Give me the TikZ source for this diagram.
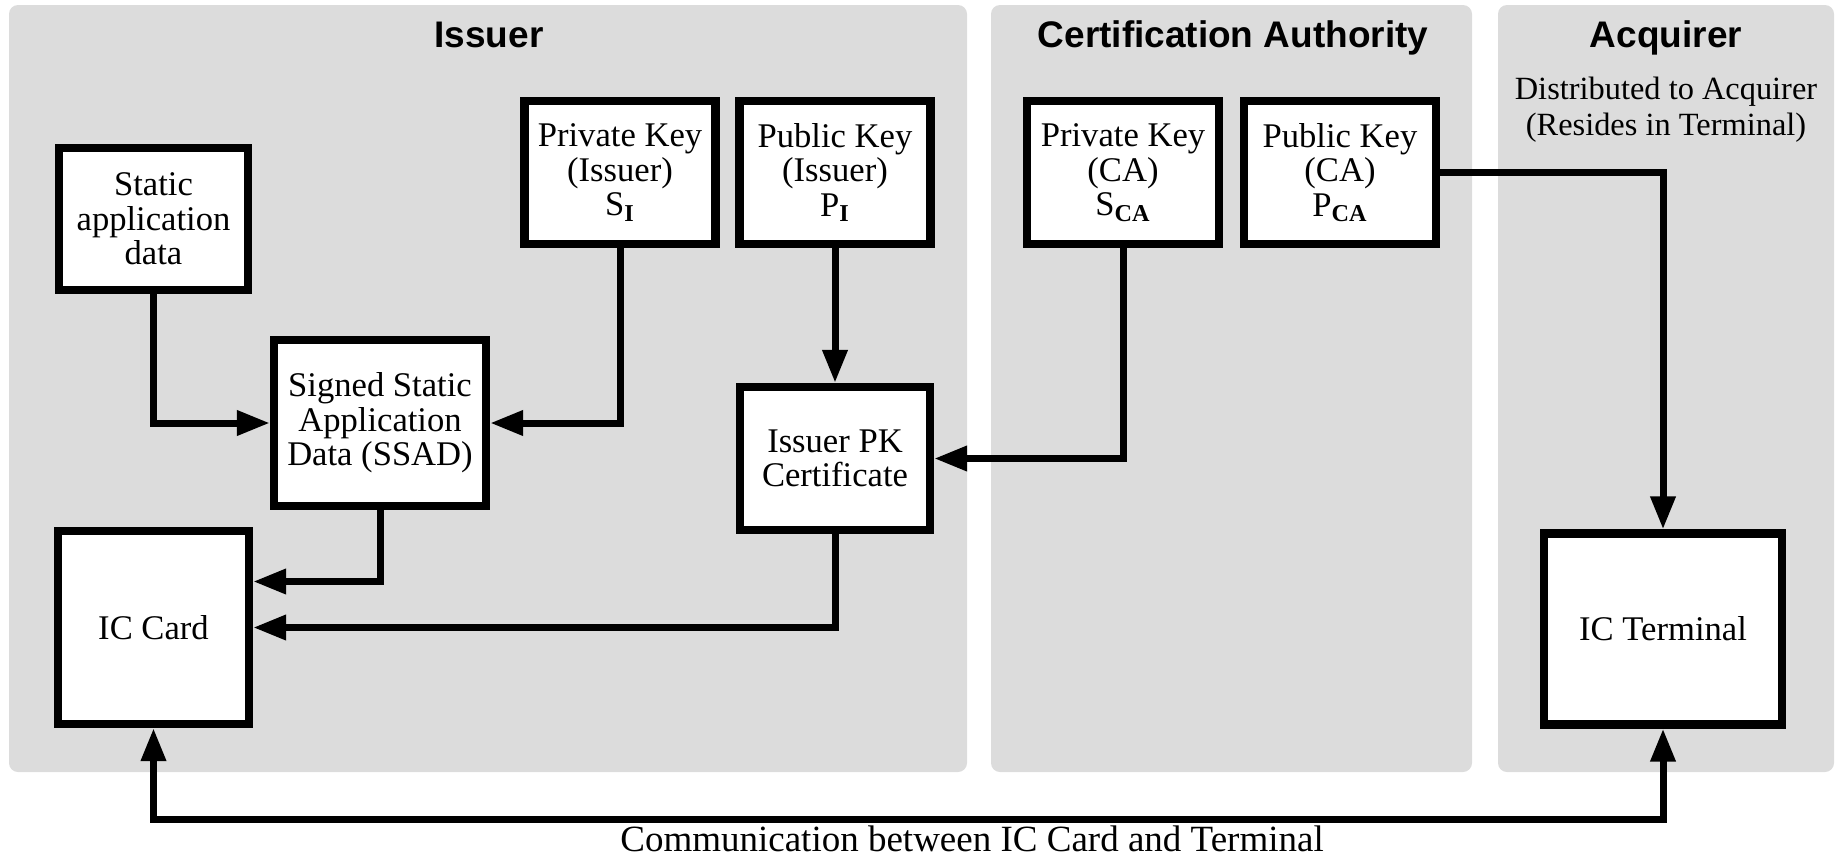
\documentclass[tikz,border=0pt]{standalone}
\usepackage{fontspec}
\setmainfont{Liberation Serif}
\newfontfamily\headfont{Liberation Sans}
\usepackage{tikz}
\usetikzlibrary{arrows.meta}
\definecolor{panelgray}{RGB}{220,220,220}
\tikzset{>={Triangle[length=16.5pt,width=12pt]},
  panel/.style={fill=panelgray, rounded corners=4.5pt},
  head/.style={font=\headfont\bfseries\fontsize{18.5}{20}\selectfont, anchor=base},
  note/.style={align=center, font=\fontsize{16.2}{18}\selectfont},
  blk/.style={draw, fill=white, line width=4.2pt, inner sep=0pt, align=center,
    font=\fontsize{17.3}{17.3}\selectfont},
  dims/.style 2 args={minimum width=#1, minimum height=#2},
  wire/.style={line width=3.5pt, ->}}

\begin{document}
\begin{tikzpicture}[x=0.5pt,y=-0.5pt]
    \useasboundingbox (0,0) rectangle (1837,858);
    \fill[panel] (9,5) rectangle (967,772);
    \fill[panel] (991,5) rectangle (1472,772);
    \fill[panel] (1498,5) rectangle (1834,772);
    \node[head] (hIss) at (489,47) {Issuer};
    \node[head] (hCA) at (1233,47) {Certification Authority};
    \node[head] (hAcq) at (1666,47) {Acquirer};
    \node[note] (dist) at (1666,110) {Distributed to Acquirer\\(Resides in Terminal)};

    \node[blk, dims={94.5pt}{71pt}] (sad) at (153.5,219) {Static\\application\\data};
    \node[blk, dims={95.5pt}{71.5pt}] (skI) at (620,172.5) {Private Key\\(Issuer)\\S\textsubscript{\textbf{I}}};
    \node[blk, dims={95.5pt}{71.5pt}] (pkI) at (835,172.5) {Public Key\\(Issuer)\\P\textsubscript{\textbf{I}}};
    \node[blk, dims={106pt}{83pt}] (ssad) at (380,423) {Signed Static\\Application\\Data (SSAD)};
    \node[blk, dims={95pt}{71.5pt}] (cert) at (835,458.5) {Issuer PK\\Certificate};
    \node[blk, dims={95.5pt}{96.5pt}] (card) at (153.5,627.5) {IC Card};
    \node[blk, dims={96pt}{71.5pt}] (skCA) at (1123,172.5) {Private Key\\(CA)\\S\textsubscript{\textbf{CA}}};
    \node[blk, dims={96pt}{71.5pt}] (pkCA) at (1340,172.5) {Public Key\\(CA)\\P\textsubscript{\textbf{CA}}};
    \node[blk, dims={119pt}{95.5pt}] (term) at (1663,629) {IC Terminal};

    \draw[wire] (sad.south) |- (ssad.west);
    \draw[wire] (skI.south) |- (ssad.east);
    \draw[wire] (pkI) -- (cert);
    \draw[wire] (skCA.south) |- (cert.east);
    \draw[wire] (pkCA.east) -| (term.north);
    \draw[wire] (ssad.south) |- ([yshift=23pt]card.east);
    \draw[wire] (cert.south) |- (card.east);
    \draw[wire, <->] (card.south) -- ++(0,91) -| (term.south);
    \node[font=\fontsize{18.5}{20}\selectfont, anchor=base, inner sep=0pt] (comm) at (972,851) {Communication between IC Card and Terminal};
\end{tikzpicture}
\end{document}
